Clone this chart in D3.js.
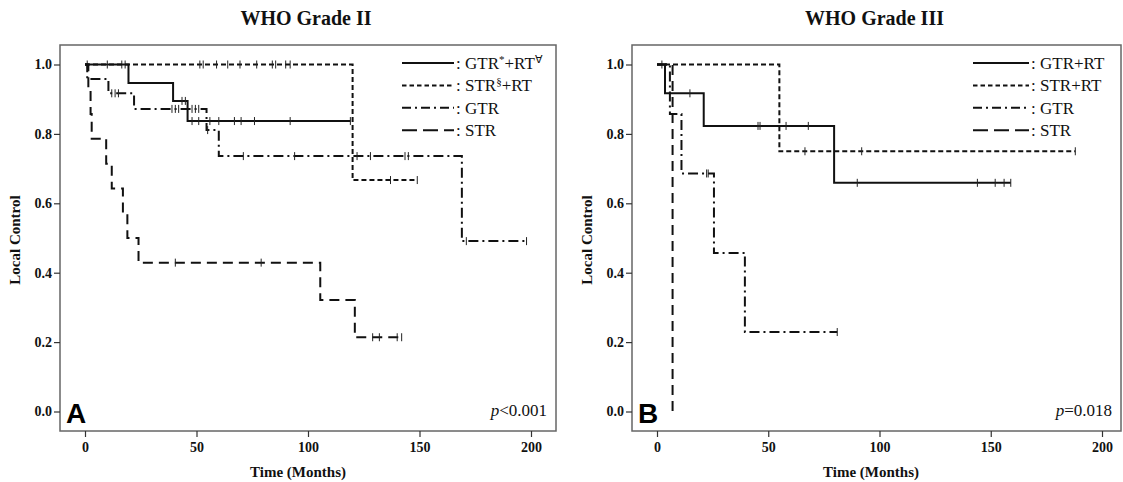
<!DOCTYPE html>
<html>
<head>
<meta charset="utf-8">
<script src="https://cdn.jsdelivr.net/npm/d3@7"></script>
<style>
body { margin: 0; background: #fff; }
text { font-family: "Liberation Serif", "Times New Roman", serif; fill: #111; }
</style>
</head>
<body>
<svg id="chart" width="1123" height="482"></svg>
<script>
// values
var xTicks = [0, 50, 100, 150, 200];
var yTicks = [0, 0.2, 0.4, 0.6, 0.8, 1.0];
var titles = ["WHO Grade II", "WHO Grade III"];
var panelLetters = ["A", "B"];
var pValues = [["<0.001"], ["=0.018"]];

// Grade II : GTR+RT
var g2GtrRtT = [0, 19.5, 39.5, 46, 119];
var g2GtrRtS = [1, 0.947, 0.895, 0.837, 0.837];
var g2GtrRtC = [10, 16.5, 18, 43.5, 45, 48, 51, 56, 60, 67, 70, 76, 92, 119];
// Grade II : STR+RT
var g2StrRtT = [0, 120, 149];
var g2StrRtS = [1, 0.667, 0.667];
var g2StrRtC = [1, 51.5, 53, 59, 64, 69.5, 77, 84, 85.5, 90, 92, 137, 149];
// Grade II : GTR
var g2GtrT = [0, 1, 10.5, 22, 54.5, 60, 169, 198];
var g2GtrS = [1, 0.958, 0.917, 0.872, 0.811, 0.736, 0.491, 0.491];
var g2GtrC = [12, 13.5, 15, 39, 40.5, 42, 48, 49.5, 51, 55, 71, 94, 122, 128, 143.5, 145, 171, 198];
// Grade II : STR
var g2StrT = [0, 1.5, 2.5, 3, 9.5, 12, 17, 19, 24, 105.5, 121, 142];
var g2StrS = [1, 0.929, 0.857, 0.786, 0.714, 0.643, 0.571, 0.5, 0.429, 0.321, 0.214, 0.214];
var g2StrC = [40.5, 79, 129, 132, 140, 142];

// Grade III : GTR+RT
var g3GtrRtT = [0, 3.6, 21, 79.6, 159];
var g3GtrRtS = [1, 0.917, 0.823, 0.659, 0.659];
var g3GtrRtC = [2.2, 14.8, 45.4, 46.3, 58, 68, 90, 144, 152, 156, 159];
// Grade III : STR+RT
var g3StrRtT = [0, 55, 188];
var g3StrRtS = [1, 0.75, 0.75];
var g3StrRtC = [66.5, 92, 188];
// Grade III : GTR
var g3GtrT = [0, 5.8, 11, 25.6, 39.5, 81];
var g3GtrS = [1, 0.857, 0.686, 0.457, 0.229, 0.229];
var g3GtrC = [22.3, 23, 81];
// Grade III : STR
var g3StrT = [0, 7];
var g3StrS = [1, 0];
var g3StrC = [];

// legend labels: [text, superscript?]
var legendII = [
	[["GTR", 0], ["*", 1], ["+RT", 0], ["\u2200", 1]],
	[["STR", 0], ["\u00a7", 1], ["+RT", 0]],
	[["GTR", 0]],
	[["STR", 0]]
];
var legendIII = [
	[["GTR+RT", 0]],
	[["STR+RT", 0]],
	[["GTR", 0]],
	[["STR", 0]]
];

var dashes = [null, "5,3", "10,4,2,4", "10,6"];
var legendDashes = [null, "4.5,3", "9,4,2,4", "15,6"];

function zipCurve(t, s, c) {
	return {
		pts: t.map(function(d, i) { return [d, s[i]]; }),
		cens: c.map(function(d) {
			// value at censor time from the step function
			var v = s[0];
			for (var i = 0; i < t.length; i++) { if (t[i] <= d) v = s[i]; }
			return [d, v];
		})
	};
}

var panels = [
	{ left: 60, right: 556, x0: 85, x200: 531, legX: 402, legW: 52, label: legendII, xLab: 298,
	  curves: [zipCurve(g2GtrRtT, g2GtrRtS, g2GtrRtC), zipCurve(g2StrRtT, g2StrRtS, g2StrRtC),
	           zipCurve(g2GtrT, g2GtrS, g2GtrC), zipCurve(g2StrT, g2StrS, g2StrC)] },
	{ left: 632, right: 1121, x0: 657, x200: 1102, legX: 973, legW: 56, label: legendIII, xLab: 871,
	  curves: [zipCurve(g3GtrRtT, g3GtrRtS, g3GtrRtC), zipCurve(g3StrRtT, g3StrRtS, g3StrRtC),
	           zipCurve(g3GtrT, g3GtrS, g3GtrC), zipCurve(g3StrT, g3StrS, g3StrC)] }
];

var svg = d3.select("#chart");
var plotTop = 45, plotBottom = 431;

var y = d3.scaleLinear().domain([0, 1]).range([411.5, 64.5]);

panels.forEach(function(p, pi) {
	var x = d3.scaleLinear().domain([0, 200]).range([p.x0, p.x200]);
	var g = svg.append("g");

	// title
	g.append("text")
		.attr("x", (p.left + p.right) / 2 - 2)
		.attr("y", 25)
		.attr("text-anchor", "middle")
		.style("font-size", "20px")
		.style("font-weight", "bold")
		.text(titles[pi]);

	// frame
	g.append("rect")
		.attr("x", p.left)
		.attr("y", plotTop)
		.attr("width", p.right - p.left)
		.attr("height", plotBottom - plotTop)
		.attr("fill", "none")
		.attr("stroke", "#666")
		.attr("stroke-width", 1.5);

	// axes
	var xa = g.append("g")
		.attr("transform", "translate(0," + plotBottom + ")")
		.call(d3.axisBottom(x).tickValues(xTicks).tickSize(6).tickPadding(5).tickFormat(d3.format("d")));
	var ya = g.append("g")
		.attr("transform", "translate(" + p.left + ",0)")
		.call(d3.axisLeft(y).tickValues(yTicks).tickSize(6).tickPadding(2).tickFormat(d3.format(".1f")));
	[xa, ya].forEach(function(a) {
		a.select(".domain").remove();
		a.selectAll("line").attr("stroke", "#333").attr("stroke-width", 1.2);
		a.selectAll("text")
			.style("font-family", "'Liberation Serif', serif")
			.style("font-size", "14px")
			.style("font-weight", "bold")
			.attr("fill", "#222");
	});

	// axis titles
	g.append("text")
		.attr("x", p.xLab)
		.attr("y", 477)
		.attr("text-anchor", "middle")
		.style("font-size", "15px")
		.style("font-weight", "bold")
		.text("Time (Months)");
	g.append("text")
		.attr("transform", "translate(" + (p.left - 40) + ",240) rotate(-90)")
		.attr("text-anchor", "middle")
		.style("font-size", "15px")
		.style("font-weight", "bold")
		.text("Local Control");

	// curves
	var line = d3.line()
		.x(function(d) { return x(d[0]); })
		.y(function(d) { return y(d[1]); })
		.curve(d3.curveStepAfter);

	p.curves.forEach(function(c, ci) {
		g.append("path")
			.attr("d", line(c.pts))
			.attr("fill", "none")
			.attr("stroke", "#111")
			.attr("stroke-width", 2)
			.attr("stroke-dasharray", dashes[ci]);
		g.selectAll(".cens" + ci)
			.data(c.cens)
			.enter()
			.append("line")
			.attr("class", "cens" + ci)
			.attr("x1", function(d) { return x(d[0]); })
			.attr("x2", function(d) { return x(d[0]); })
			.attr("y1", function(d) { return y(d[1]) - 4; })
			.attr("y2", function(d) { return y(d[1]) + 4; })
			.attr("stroke", "#222")
			.attr("stroke-width", 1);
	});

	// legend
	p.label.forEach(function(parts, li) {
		var ly = 63 + li * 22.4;
		g.append("line")
			.attr("x1", p.legX)
			.attr("x2", p.legX + p.legW)
			.attr("y1", ly)
			.attr("y2", ly)
			.attr("stroke", "#111")
			.attr("stroke-width", 2)
			.attr("stroke-dasharray", legendDashes[li]);
		var t = g.append("text")
			.attr("x", p.legX + p.legW + 2)
			.attr("y", ly + 6)
			.style("font-size", "17px");
		t.append("tspan").text(": ");
		parts.forEach(function(s) {
			var sp = t.append("tspan").text(s[0]);
			if (s[1]) {
				sp.attr("dy", -6).style("font-size", "11px");
			}
		});
		// reset baseline after superscripts
		t.selectAll("tspan").each(function(d, i, nodes) {
			var prev = i > 0 ? d3.select(nodes[i - 1]).attr("dy") : null;
			if (prev == -6 && d3.select(this).attr("dy") == null) d3.select(this).attr("dy", 6);
		});
	});

	// panel letter
	g.append("text")
		.attr("x", p.left + 6)
		.attr("y", 423)
		.style("font-family", "'Liberation Sans', Arial, sans-serif")
		.style("font-size", "28px")
		.style("font-weight", "bold")
		.style("fill", "#000")
		.text(panelLetters[pi]);

	// p value
	var pt = g.append("text")
		.attr("x", p.right - 9)
		.attr("y", 416)
		.attr("text-anchor", "end")
		.style("font-size", "17px");
	pt.append("tspan").style("font-style", "italic").text("p");
	pt.append("tspan").text(pValues[pi][0]);
});
</script>
</body>
</html>
